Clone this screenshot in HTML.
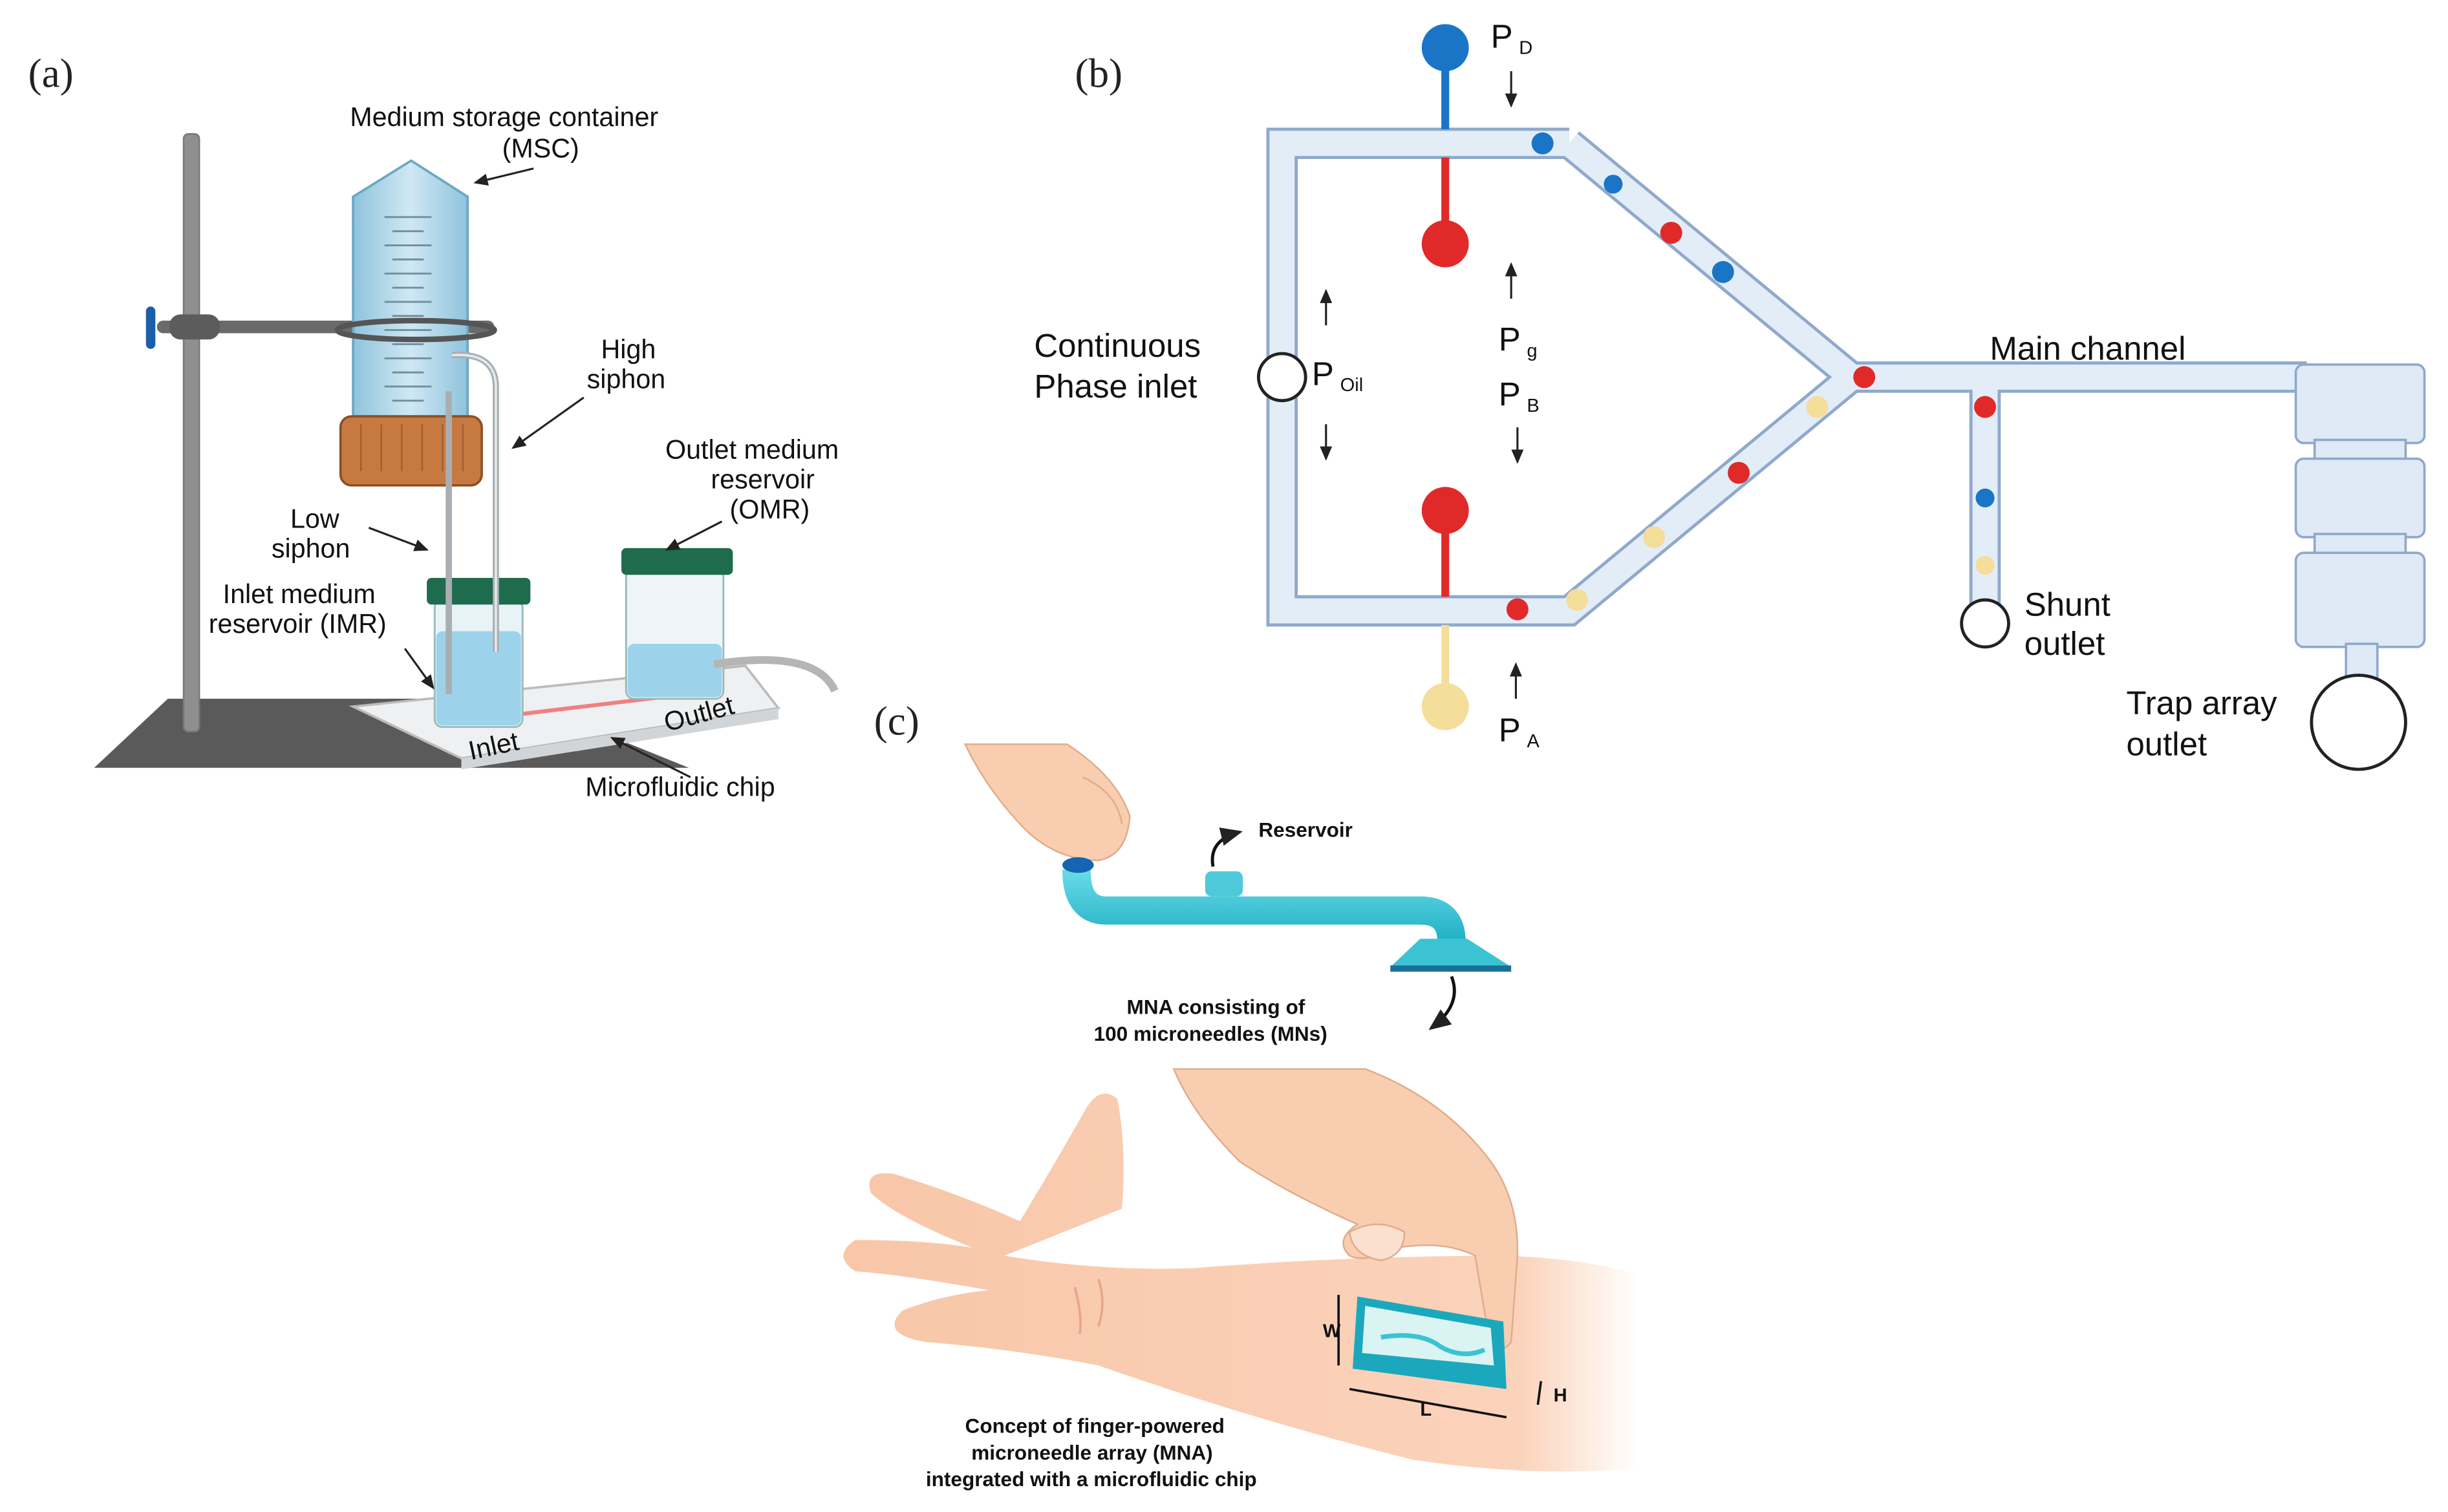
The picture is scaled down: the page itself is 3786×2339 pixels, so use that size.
<!DOCTYPE html>
<html><head><meta charset="utf-8"><style>
html,body{margin:0;padding:0;background:#fff;}
svg{display:block}
text{font-family:"Liberation Sans",sans-serif;}
</style></head><body>
<svg width="3786" height="2339" viewBox="0 0 1560 963" xmlns="http://www.w3.org/2000/svg">
<defs>
<linearGradient id="tubeg" x1="0" x2="1"><stop offset="0" stop-color="#8fc3dc"/><stop offset="0.5" stop-color="#cfe8f3"/><stop offset="1" stop-color="#8fc3dc"/></linearGradient>
<linearGradient id="teal" x1="0" x2="0" y1="0" y2="1"><stop offset="0" stop-color="#6adbe8"/><stop offset="1" stop-color="#1fb0c4"/></linearGradient>
<linearGradient id="skin" x1="0" x2="1"><stop offset="0" stop-color="#f8c6a8"/><stop offset="0.85" stop-color="#fbd3bb"/><stop offset="1" stop-color="#fff"/></linearGradient>
<marker id="ar" markerWidth="8" markerHeight="8" refX="6" refY="4" orient="auto"><path d="M0,1 L7,4 L0,7 Z" fill="#222"/></marker>
</defs>
<rect width="1560" height="963" fill="#fff"/>

<!-- ===== Panel a ===== -->
<text x="18" y="55" font-size="26" fill="#222" style="font-family:'Liberation Serif',serif">(a)</text>
<polygon points="107,445 330,445 439,489 60,489" fill="#5a5a5a"/>
<rect x="117" y="85" width="10" height="381" rx="3" fill="#8f8f8f" stroke="#777" stroke-width="1"/>
<rect x="100" y="204" width="215" height="8" rx="4" fill="#6a6a6a"/>
<rect x="93" y="195" width="6" height="27" rx="3" fill="#1b5fa8"/>
<rect x="108" y="200" width="32" height="16" rx="7" fill="#5c5c5c"/>
<!-- MSC tube -->
<path d="M225,265 L225,125 L262,102 L298,125 L298,265 Z" fill="url(#tubeg)" stroke="#6aa7c4" stroke-width="1.5"/>
<g stroke="#6f8f9f" stroke-width="1.2">
<line x1="245" y1="138" x2="275" y2="138"/><line x1="250" y1="147" x2="270" y2="147"/><line x1="245" y1="156" x2="275" y2="156"/><line x1="250" y1="165" x2="270" y2="165"/><line x1="245" y1="174" x2="275" y2="174"/><line x1="250" y1="183" x2="270" y2="183"/><line x1="245" y1="192" x2="275" y2="192"/><line x1="250" y1="201" x2="270" y2="201"/><line x1="245" y1="210" x2="275" y2="210"/><line x1="250" y1="219" x2="270" y2="219"/><line x1="245" y1="228" x2="275" y2="228"/><line x1="250" y1="237" x2="270" y2="237"/><line x1="245" y1="246" x2="275" y2="246"/><line x1="250" y1="255" x2="270" y2="255"/>
</g>
<ellipse cx="265" cy="210" rx="50" ry="6" fill="none" stroke="#555" stroke-width="3.5"/>
<rect x="217" y="265" width="90" height="44" rx="7" fill="#c67a42" stroke="#8d4f22" stroke-width="1.5"/>
<g stroke="#a55e2c" stroke-width="1"><line x1="230" y1="270" x2="230" y2="300"/><line x1="243" y1="270" x2="243" y2="300"/><line x1="256" y1="270" x2="256" y2="300"/><line x1="269" y1="270" x2="269" y2="300"/><line x1="282" y1="270" x2="282" y2="300"/><line x1="295" y1="270" x2="295" y2="300"/></g>
<!-- chip -->
<polygon points="225,450 475,424 496,451 294,483" fill="#eef0f2" stroke="#bbb" stroke-width="1.5"/>
<polygon points="294,483 496,451 496,458 294,490" fill="#d2d5d8"/>
<line x1="330" y1="455" x2="430" y2="443" stroke="#f08080" stroke-width="2.5"/>
<!-- IMR -->
<rect x="277" y="382" width="56" height="81" rx="5" fill="#e8f3f8" stroke="#9bb" stroke-width="1.2"/>
<rect x="278" y="402" width="54" height="60" rx="4" fill="#9dd3ea"/>
<rect x="272" y="368" width="66" height="17" rx="3" fill="#1f6b4e"/>
<!-- siphons -->
<path d="M286,249 L286,442" fill="none" stroke="#a9aeb2" stroke-width="4"/>
<path d="M288,226 Q315,224 316,245 L316,415" fill="none" stroke="#a9aeb2" stroke-width="4"/>
<path d="M288,226 Q315,224 316,245 L316,415" fill="none" stroke="#e3e8ea" stroke-width="1.5"/>
<!-- OMR -->
<rect x="399" y="362" width="62" height="83" rx="5" fill="#eef5f8" stroke="#9bb" stroke-width="1.2"/>
<rect x="400" y="410" width="60" height="34" rx="4" fill="#9dd3ea"/>
<rect x="396" y="349" width="71" height="17" rx="3" fill="#1f6b4e"/>
<path d="M455,423 Q520,413 532,440" fill="none" stroke="#b5b5b5" stroke-width="5"/>
<g font-size="17" fill="#111">
<text x="223" y="80">Medium storage container</text>
<text x="320" y="100">(MSC)</text>
<text x="383" y="228">High</text><text x="374" y="247">siphon</text>
<text x="424" y="292">Outlet medium</text><text x="453" y="311">reservoir</text><text x="465" y="330">(OMR)</text>
<text x="185" y="336">Low</text><text x="173" y="355">siphon</text>
<text x="142" y="384">Inlet medium</text><text x="133" y="403">reservoir (IMR)</text>
<text x="300" y="484" transform="rotate(-12 300 484)">Inlet</text>
<text x="425" y="466" transform="rotate(-15 425 466)">Outlet</text>
<text x="373" y="507">Microfluidic chip</text>
</g>
<g stroke="#222" stroke-width="1.3" marker-end="url(#ar)">
<line x1="340" y1="107" x2="303" y2="116"/>
<line x1="372" y1="253" x2="327" y2="285"/>
<line x1="460" y1="332" x2="425" y2="350"/>
<line x1="235" y1="336" x2="272" y2="350"/>
<line x1="258" y1="413" x2="276" y2="438"/>
<line x1="440" y1="495" x2="390" y2="470"/>
</g>

<!-- ===== Panel b ===== -->
<text x="685" y="55" font-size="26" fill="#222" style="font-family:'Liberation Serif',serif">(b)</text>
<g fill="none" stroke-linejoin="miter">
<path d="M1000,91 L817,91 L817,389 L1000,389 L1180,240 L1000,91 M1180,240 L1470,240 M1265,240 L1265,385" stroke="#8fa9cc" stroke-width="20"/>
<path d="M1000,91 L817,91 L817,389 L1000,389 L1180,240 L1000,91 M1180,240 L1470,240 M1265,240 L1265,385" stroke="#e3edf8" stroke-width="16"/>
</g>
<g fill="#dfeaf6" stroke="#8fa9cc" stroke-width="1.5">
<rect x="1463" y="232" width="82" height="50" rx="5"/>
<rect x="1475" y="280" width="58" height="14"/>
<rect x="1463" y="292" width="82" height="50" rx="5"/>
<rect x="1475" y="340" width="58" height="14"/>
<rect x="1463" y="352" width="82" height="60" rx="5"/>
<rect x="1495" y="410" width="20" height="22"/>
</g>
<circle cx="1503" cy="460" r="30" fill="#fff" stroke="#222" stroke-width="2"/>
<circle cx="1265" cy="397" r="15" fill="#fff" stroke="#222" stroke-width="2"/>
<circle cx="817" cy="240" r="15" fill="#fff" stroke="#222" stroke-width="2"/>
<line x1="921" y1="30" x2="921" y2="82" stroke="#1a75c7" stroke-width="5"/><circle cx="921" cy="30" r="15" fill="#1a75c7"/>
<line x1="921" y1="100" x2="921" y2="150" stroke="#e02a2a" stroke-width="5"/><circle cx="921" cy="155" r="15" fill="#e02a2a"/>
<line x1="921" y1="330" x2="921" y2="380" stroke="#e02a2a" stroke-width="5"/><circle cx="921" cy="325" r="15" fill="#e02a2a"/>
<line x1="921" y1="398" x2="921" y2="445" stroke="#f5dd9a" stroke-width="5"/><circle cx="921" cy="450" r="15" fill="#f5dd9a"/>
<g>
<circle cx="983" cy="91" r="7" fill="#1a75c7"/><circle cx="1028" cy="117" r="6" fill="#1a75c7"/><circle cx="1065" cy="148" r="7" fill="#e02a2a"/><circle cx="1098" cy="173" r="7" fill="#1a75c7"/>
<circle cx="1188" cy="240" r="7" fill="#e02a2a"/><circle cx="1158" cy="259" r="7" fill="#f5dd9a"/><circle cx="1108" cy="301" r="7" fill="#e02a2a"/><circle cx="1054" cy="342" r="7" fill="#f5dd9a"/><circle cx="1005" cy="382" r="7" fill="#f5dd9a"/><circle cx="967" cy="388" r="7" fill="#e02a2a"/>
<circle cx="1265" cy="259" r="7" fill="#e02a2a"/><circle cx="1265" cy="317" r="6" fill="#1a75c7"/><circle cx="1265" cy="360" r="6" fill="#f5dd9a"/>
</g>
<g stroke="#222" stroke-width="1.3" marker-end="url(#ar)">
<line x1="963" y1="45" x2="963" y2="67"/>
<line x1="963" y1="190" x2="963" y2="168"/>
<line x1="967" y1="272" x2="967" y2="294"/>
<line x1="845" y1="207" x2="845" y2="185"/>
<line x1="845" y1="270" x2="845" y2="292"/>
<line x1="966" y1="445" x2="966" y2="423"/>
</g>
<g font-size="21" fill="#111">
<text x="950" y="30">P<tspan font-size="12" dx="4" dy="4">D</tspan></text>
<text x="955" y="223">P<tspan font-size="12" dx="4" dy="4">g</tspan></text>
<text x="955" y="258">P<tspan font-size="12" dx="4" dy="4">B</tspan></text>
<text x="836" y="245">P<tspan font-size="12" dx="4" dy="4">Oil</tspan></text>
<text x="955" y="472">P<tspan font-size="12" dx="4" dy="4">A</tspan></text>
<text x="659" y="227">Continuous</text><text x="659" y="253">Phase inlet</text>
<text x="1268" y="229">Main channel</text>
<text x="1290" y="392">Shunt</text><text x="1290" y="417">outlet</text>
<text x="1355" y="455">Trap array</text><text x="1355" y="481">outlet</text>
</g>

<!-- ===== Panel c ===== -->
<text x="557" y="468" font-size="26" fill="#222" style="font-family:'Liberation Serif',serif">(c)</text>
<!-- top finger -->
<path d="M615,474 L680,474 Q712,495 720,520 Q718,545 700,548 Q675,548 655,530 Q630,505 615,474 Z" fill="#f8cdb0" stroke="#e0ab8a" stroke-width="1"/>
<path d="M690,495 Q712,505 715,525" fill="none" stroke="#e0ab8a" stroke-width="1"/>
<!-- device -->
<path d="M686,554 Q686,580 705,580 L905,580 Q925,580 925,600" fill="none" stroke="url(#teal)" stroke-width="18" stroke-linecap="butt"/>
<ellipse cx="687" cy="551" rx="10" ry="5" fill="#1565b0"/>
<rect x="768" y="555" width="24" height="16" rx="4" fill="#4fcadb"/>
<polygon points="905,598 935,598 963,616 886,616" fill="#3cc3d3"/>
<rect x="886" y="615" width="77" height="4" fill="#1a6f9a"/>
<path d="M773,552 Q770,535 790,530" fill="none" stroke="#111" stroke-width="2" marker-end="url(#ar)"/>
<path d="M925,622 Q932,640 912,655" fill="none" stroke="#111" stroke-width="2" marker-end="url(#ar)"/>
<g font-size="13" font-weight="bold" fill="#111">
<text x="802" y="533">Reservoir</text>
<text x="718" y="646">MNA consisting of</text>
<text x="697" y="663">100 microneedles (MNs)</text>
<text x="615" y="913">Concept of finger-powered</text>
<text x="619" y="930">microneedle array (MNA)</text>
<text x="590" y="947">integrated with a microfluidic chip</text>
</g>
<!-- arm + hand -->
<path d="M640,800 Q700,810 760,808 Q860,800 960,800 Q1010,802 1045,812 L1045,935 Q980,942 900,930 Q800,905 700,870 Q650,860 590,855 Q560,850 575,835 Q600,825 630,822 Q575,812 545,810 Q530,800 545,790 Q590,790 620,795 Q570,775 555,760 Q550,745 570,748 Q610,760 650,778 Q670,745 690,710 Q700,690 712,700 Q718,730 715,770 Z" fill="url(#skin)"/>
<path d="M685,820 Q690,840 688,850 M700,815 Q705,830 700,845" stroke="#e8a58a" stroke-width="1.5" fill="none"/>
<!-- pinching hand -->
<path d="M748,681 L870,681 Q920,700 950,740 Q968,765 967,800 L963,855 Q958,862 950,858 Q945,830 940,800 Q920,790 890,795 Q870,805 860,800 Q850,790 865,780 Q820,760 790,740 Q760,710 748,681 Z" fill="#f8cdb0" stroke="#e0ab8a" stroke-width="1"/>
<path d="M860,785 Q878,775 895,785 Q895,800 880,803 Q862,800 860,785 Z" fill="#fce0cf" stroke="#e0ab8a" stroke-width="1"/>
<!-- chip on arm -->
<polygon points="865,826 958,842 960,885 862,872" fill="#1ba8bd"/>
<polygon points="870,832 950,846 952,870 868,862" fill="#d9f4f3"/>
<path d="M880,852 Q905,848 918,858 Q932,866 946,860" fill="none" stroke="#3cc3d3" stroke-width="3"/>
<g font-size="12" font-weight="bold" fill="#111">
<text x="843" y="852">W</text><text x="905" y="902">L</text><text x="990" y="893">H</text>
</g>
<g stroke="#111" stroke-width="1.5"><line x1="860" y1="885" x2="960" y2="903"/><line x1="853" y1="825" x2="853" y2="870"/><line x1="982" y1="880" x2="980" y2="895"/></g>
</svg>
</body></html>
